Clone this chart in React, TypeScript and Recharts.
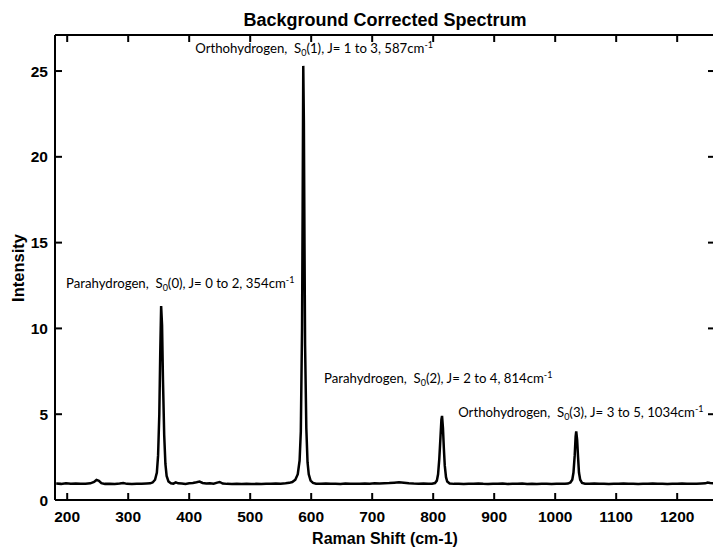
import React from "react";
import {
  LineChart,
  Line,
  XAxis,
  YAxis,
  ReferenceDot,
} from "recharts";

// Raman shift (cm-1) and background corrected intensity
const shifts = [
  182, 190, 198, 206, 214, 222, 230, 238, 244, 248, 252, 256, 262, 270, 278, 286, 292, 298, 306, 314, 322, 330, 336,
  340, 344, 347, 349, 351, 352.5, 354, 355.5, 357, 359, 361, 363, 366, 370,
  374, 378, 382, 388, 394, 400, 406, 412, 417, 422, 428, 434, 440, 446, 450, 455, 462, 470, 478, 486, 494, 502, 510,
  518, 526, 534, 542, 550, 558, 564,
  569, 574, 578, 581, 583, 585, 586, 587, 588, 589, 590, 592, 594, 596, 599, 603,
  608, 616, 624, 632, 640, 648, 656, 664, 672, 680, 688, 696, 704, 712, 720, 728, 736, 744, 752, 760, 768, 776, 784,
  792, 798,
  803, 806, 808, 810, 812, 813.5, 814.5, 816, 817.5, 819, 821, 823, 827,
  834, 842, 850, 858, 866, 874, 882, 890, 898, 906, 914, 922, 930, 938, 946, 954, 962, 970, 978, 986, 994, 1002,
  1010, 1016, 1021,
  1025, 1028, 1030, 1032, 1033.5, 1034.5, 1036, 1037.5, 1039, 1041, 1044, 1049,
  1056, 1064, 1072, 1080, 1088, 1096, 1104, 1112, 1120, 1128, 1136, 1144, 1152, 1160, 1168, 1176, 1184, 1192, 1200,
  1208, 1216, 1224, 1232, 1240, 1246, 1250, 1254, 1260,
];

const intensity = [
  0.96, 0.94, 0.97, 0.95, 0.96, 0.94, 0.95, 0.97, 1.05, 1.17, 1.12, 0.98, 0.94, 0.95, 0.93, 0.96, 0.99, 0.94, 0.93, 0.95, 0.94, 0.96, 0.97,
  1.02, 1.18, 1.6, 2.6, 5.0, 8.5, 11.3, 10.2, 7.0, 3.8, 2.1, 1.4, 1.08, 0.97,
  0.95, 1.03, 0.97, 0.96, 0.94, 0.97, 0.99, 1.03, 1.07, 0.99, 0.96, 0.97, 0.95, 1.01, 1.05, 0.96, 0.94, 0.93, 0.94, 0.93, 0.95, 0.93, 0.94,
  0.93, 0.95, 0.94, 0.96, 0.95, 0.97, 1.0,
  1.05, 1.18, 1.5, 2.3, 4.0, 10.0, 17.0, 25.3, 22.0, 15.0, 9.0, 4.2, 2.2, 1.5, 1.13, 1.0,
  0.95, 0.94, 0.96, 0.94, 0.95, 0.93, 0.96, 0.94, 0.95, 0.94, 0.96, 0.95, 0.97, 0.96, 0.98, 0.99, 1.01, 1.03, 1.01, 0.98, 0.96, 0.95, 0.96,
  0.94, 0.95,
  0.99, 1.13, 1.5, 2.4, 3.7, 4.7, 4.9, 4.2, 3.0, 2.0, 1.33, 1.08, 0.96,
  0.94, 0.95, 0.93, 0.95, 0.94, 0.96, 0.94, 0.93, 0.95, 0.94, 0.96, 0.93, 0.95, 0.94, 0.96, 0.93, 0.94, 0.93, 0.95, 0.94, 0.93, 0.95,
  0.94, 0.95, 0.96,
  1.02, 1.18, 1.6, 2.6, 3.7, 4.0, 3.5, 2.5, 1.6, 1.18, 1.0, 0.95,
  0.94, 0.96, 0.94, 0.95, 0.93, 0.95, 0.94, 0.96, 0.94, 0.95, 0.93, 0.95, 0.94, 0.96, 0.94, 0.95, 0.93, 0.95, 0.94,
  0.96, 0.94, 0.95, 0.94, 0.96, 0.97, 1.02, 0.99, 0.97,
];

const xTicks = [200, 300, 400, 500, 600, 700, 800, 900, 1000, 1100, 1200];
const yTicks = [0, 5, 10, 15, 20, 25];

// peak annotations: text anchor in data coordinates
const annotations = [
  { shift: 410, level: 26.05, name: "Orthohydrogen", line: "(1)", jump: "J= 1 to 3", wn: "587" },
  { shift: 198, level: 12.35, name: "Parahydrogen", line: "(0)", jump: "J= 0 to 2", wn: "354" },
  { shift: 621, level: 6.82, name: "Parahydrogen", line: "(2)", jump: "J= 2 to 4", wn: "814" },
  { shift: 841, level: 4.84, name: "Orthohydrogen", line: "(3)", jump: "J= 3 to 5", wn: "1034" },
];

const data = shifts.map((s, i) => ({ shift: s, value: intensity[i] }));

const boldFont = "'Liberation Sans', Arial, sans-serif";
const noteFont = "Lato, 'Open Sans', sans-serif";
const tickStyle = { fill: "#000", fontSize: 15.5, fontWeight: 700, fontFamily: boldFont };
const axisStroke = { stroke: "#000", strokeWidth: 2 };

const renderNote = (a: (typeof annotations)[number]) => (props: any) => {
  const vb = props.viewBox || {};
  return (
    <text x={vb.x} y={vb.y} fontFamily={noteFont} fontSize={13.2} fill="#000">
      <tspan>{a.name + ",\u00A0 S"}</tspan>
      <tspan dy={3} fontSize={9}>0</tspan>
      <tspan dy={-3}>{a.line + ", " + a.jump + ", " + a.wn + "cm"}</tspan>
      <tspan dy={-5} fontSize={9}>-1</tspan>
    </text>
  );
};

export default function App() {
  return (
    <div style={{ position: "relative", width: 713, height: 550, overflow: "hidden", background: "#fff" }}>
      <style>{`body{margin:0}`}</style>
      <div
        style={{
          position: "absolute",
          left: 0,
          width: 770,
          top: 10,
          textAlign: "center",
          fontFamily: boldFont,
          fontWeight: 700,
          fontSize: 18,
        }}
      >
        Background Corrected Spectrum
      </div>
      <div
        style={{
          position: "absolute",
          left: 18,
          top: 268,
          transform: "translate(-50%, -50%) rotate(-90deg)",
          fontFamily: boldFont,
          fontWeight: 700,
          fontSize: 16.5,
          whiteSpace: "nowrap",
        }}
      >
        Intensity
      </div>
      <div
        style={{
          position: "absolute",
          left: 0,
          width: 770,
          top: 530,
          textAlign: "center",
          fontFamily: boldFont,
          fontWeight: 700,
          fontSize: 16,
        }}
      >
        Raman Shift (cm-1)
      </div>
      <div style={{ position: "absolute", left: 0, top: 0 }}>
        <LineChart width={716} height={550} data={data} margin={{ top: 34, right: 0, bottom: 49, left: 54 }}>
          <XAxis
            dataKey="shift"
            type="number"
            domain={[180, 1262]}
            ticks={xTicks}
            allowDataOverflow
            height={1}
            tickSize={-7}
            tickMargin={18}
            tick={tickStyle}
            axisLine={axisStroke}
            tickLine={axisStroke}
          />
          <XAxis
            xAxisId="top"
            orientation="top"
            dataKey="shift"
            type="number"
            domain={[180, 1262]}
            ticks={xTicks}
            allowDataOverflow
            height={1}
            tickSize={-7}
            tickFormatter={() => ""}
            axisLine={axisStroke}
            tickLine={axisStroke}
          />
          <YAxis
            type="number"
            domain={[0, 27.1]}
            ticks={yTicks}
            allowDataOverflow
            width={1}
            tickSize={-7}
            tickMargin={14}
            tick={tickStyle}
            axisLine={axisStroke}
            tickLine={axisStroke}
          />
          <YAxis
            yAxisId="right"
            orientation="right"
            type="number"
            domain={[0, 27.1]}
            ticks={yTicks}
            allowDataOverflow
            width={1}
            tickSize={-7}
            tickFormatter={() => ""}
            axisLine={axisStroke}
            tickLine={axisStroke}
          />
          <Line
            type="linear"
            dataKey="value"
            stroke="#000"
            strokeWidth={2.5}
            dot={false}
            isAnimationActive={false}
          />
          {annotations.map((a) => (
            <ReferenceDot
              key={a.wn}
              x={a.shift}
              y={a.level}
              r={0}
              fill="none"
              stroke="none"
              ifOverflow="visible"
              label={{ content: renderNote(a) }}
            />
          ))}
        </LineChart>
      </div>
    </div>
  );
}
